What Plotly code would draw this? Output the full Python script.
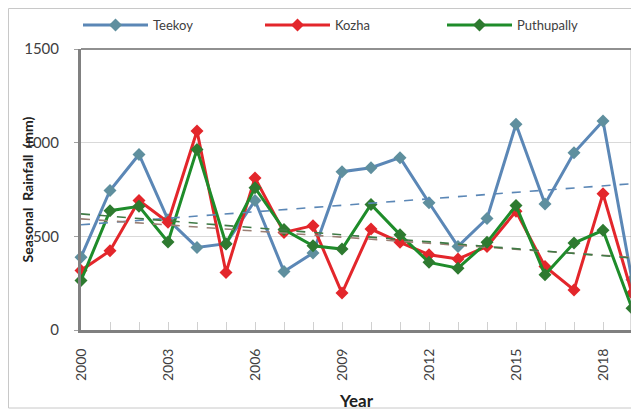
import numpy as np
import plotly.graph_objects as go

years = list(range(2000, 2020))
teekoy = [389, 745, 937, 589, 441, 461, 691, 312, 411, 845, 866, 920, 679, 446, 595, 1098, 673, 946, 1116, 268]
kozha = [318, 423, 691, 575, 1062, 307, 812, 521, 557, 197, 539, 468, 402, 379, 446, 634, 339, 214, 727, 196]
puthupally = [264, 637, 660, 470, 964, 459, 759, 536, 450, 432, 670, 509, 361, 330, 468, 664, 295, 464, 532, 116]
tick_years = [2000, 2003, 2006, 2009, 2012, 2015, 2018]
y_ticks = [0, 500, 1000, 1500]

series = [
    ("Teekoy", teekoy, "#5B87B6", "#5F8F9E", "#5B87B6"),
    ("Kozha", kozha, "#E3262B", "#E3262B", "#9A7F74"),
    ("Puthupally", puthupally, "#1E8C2A", "#2E7A30", "#3F7A45"),
]

# page body has an 8px margin: figure is drawn 8px right/down of the window origin
L, T, R, B = 73, 41, 7, 81
W, H = 639 - 8, 411 - 8
PW, PH = W - L - R, H - T - B

fig = go.Figure()
x = np.array(years, dtype=float)
for name, vals, lc, mc, tc in series:
    fig.add_trace(go.Scatter(
        x=years, y=vals, name=name, mode="lines+markers",
        line=dict(color=lc, width=3),
        marker=dict(symbol="diamond", size=10, color=mc, line=dict(width=0)),
        cliponaxis=False,
    ))
for name, vals, lc, mc, tc in series:
    k, b = np.polyfit(x, np.array(vals, dtype=float), 1)
    fig.add_trace(go.Scatter(
        x=[years[0], years[-1]], y=[k * years[0] + b, k * years[-1] + b],
        mode="lines", showlegend=False, hoverinfo="skip",
        line=dict(color=tc, width=1.6, dash="dash"),
    ))

fig.update_layout(
    width=W, height=H,
    margin=dict(l=L, r=R, t=T, b=B, autoexpand=False),
    paper_bgcolor="white", plot_bgcolor="white",
    font=dict(family="Lato, Open Sans, sans-serif", color="#404040"),
    showlegend=True,
    legend=dict(
        orientation="h", x=-3 / PW, xanchor="left", y=1 + 24 / PH, yanchor="middle",
        font=dict(size=13, color="#404040"),
        itemwidth=65, entrywidth=102, entrywidthmode="pixels",
        bgcolor="rgba(0,0,0,0)",
    ),
    xaxis=dict(
        range=[2000, 2019], tickvals=tick_years, ticktext=[str(t) for t in tick_years],
        tickangle=-90, tickfont=dict(size=14, color="#404040"),
        ticks="inside", ticklen=8, tickcolor="#D0D0D0",
        minor=dict(dtick=1, tick0=2000, ticks="inside", ticklen=8, tickcolor="#D0D0D0"),
        showgrid=False, showline=True, linecolor="#808080", linewidth=3, mirror=False,
        zeroline=False, ticklabelstandoff=10,
        title=dict(text="<b>Year</b>", font=dict(size=17, color="#202020"), standoff=16),
    ),
    yaxis=dict(
        range=[0, 1500], tickvals=y_ticks,
        tickfont=dict(size=15, color="#404040"),
        ticks="outside", ticklen=4, tickcolor="#A0A0A0",
        showgrid=True, gridcolor="#D9D9D9", gridwidth=1,
        showline=True, linecolor="#808080", linewidth=3,
        zeroline=False, ticklabelstandoff=12,
    ),
    annotations=[
        dict(text="<b>Seasonal  Rainfall  (mm)</b>", xref="paper", yref="paper",
             x=-54 / PW, y=0.5, textangle=-90, showarrow=False,
             xanchor="center", yanchor="middle",
             font=dict(size=14, color="#202020")),
    ],
    shapes=[
        dict(type="line", xref="paper", yref="paper", x0=0, x1=1, y0=1, y1=1,
             line=dict(color="#909090", width=2)),
        dict(type="line", xref="paper", yref="paper", x0=1, x1=1, y0=0, y1=1,
             line=dict(color="#707070", width=2.5)),
        dict(type="rect", xref="paper", yref="paper",
             x0=-(L - 0.5) / PW, x1=1 + (R - 4) / PW, y0=-(B - 3) / PH, y1=1 + (T - 0.5) / PH,
             line=dict(color="#C8C8C8", width=1)),
    ],
)

fig.write_html("out.html")
